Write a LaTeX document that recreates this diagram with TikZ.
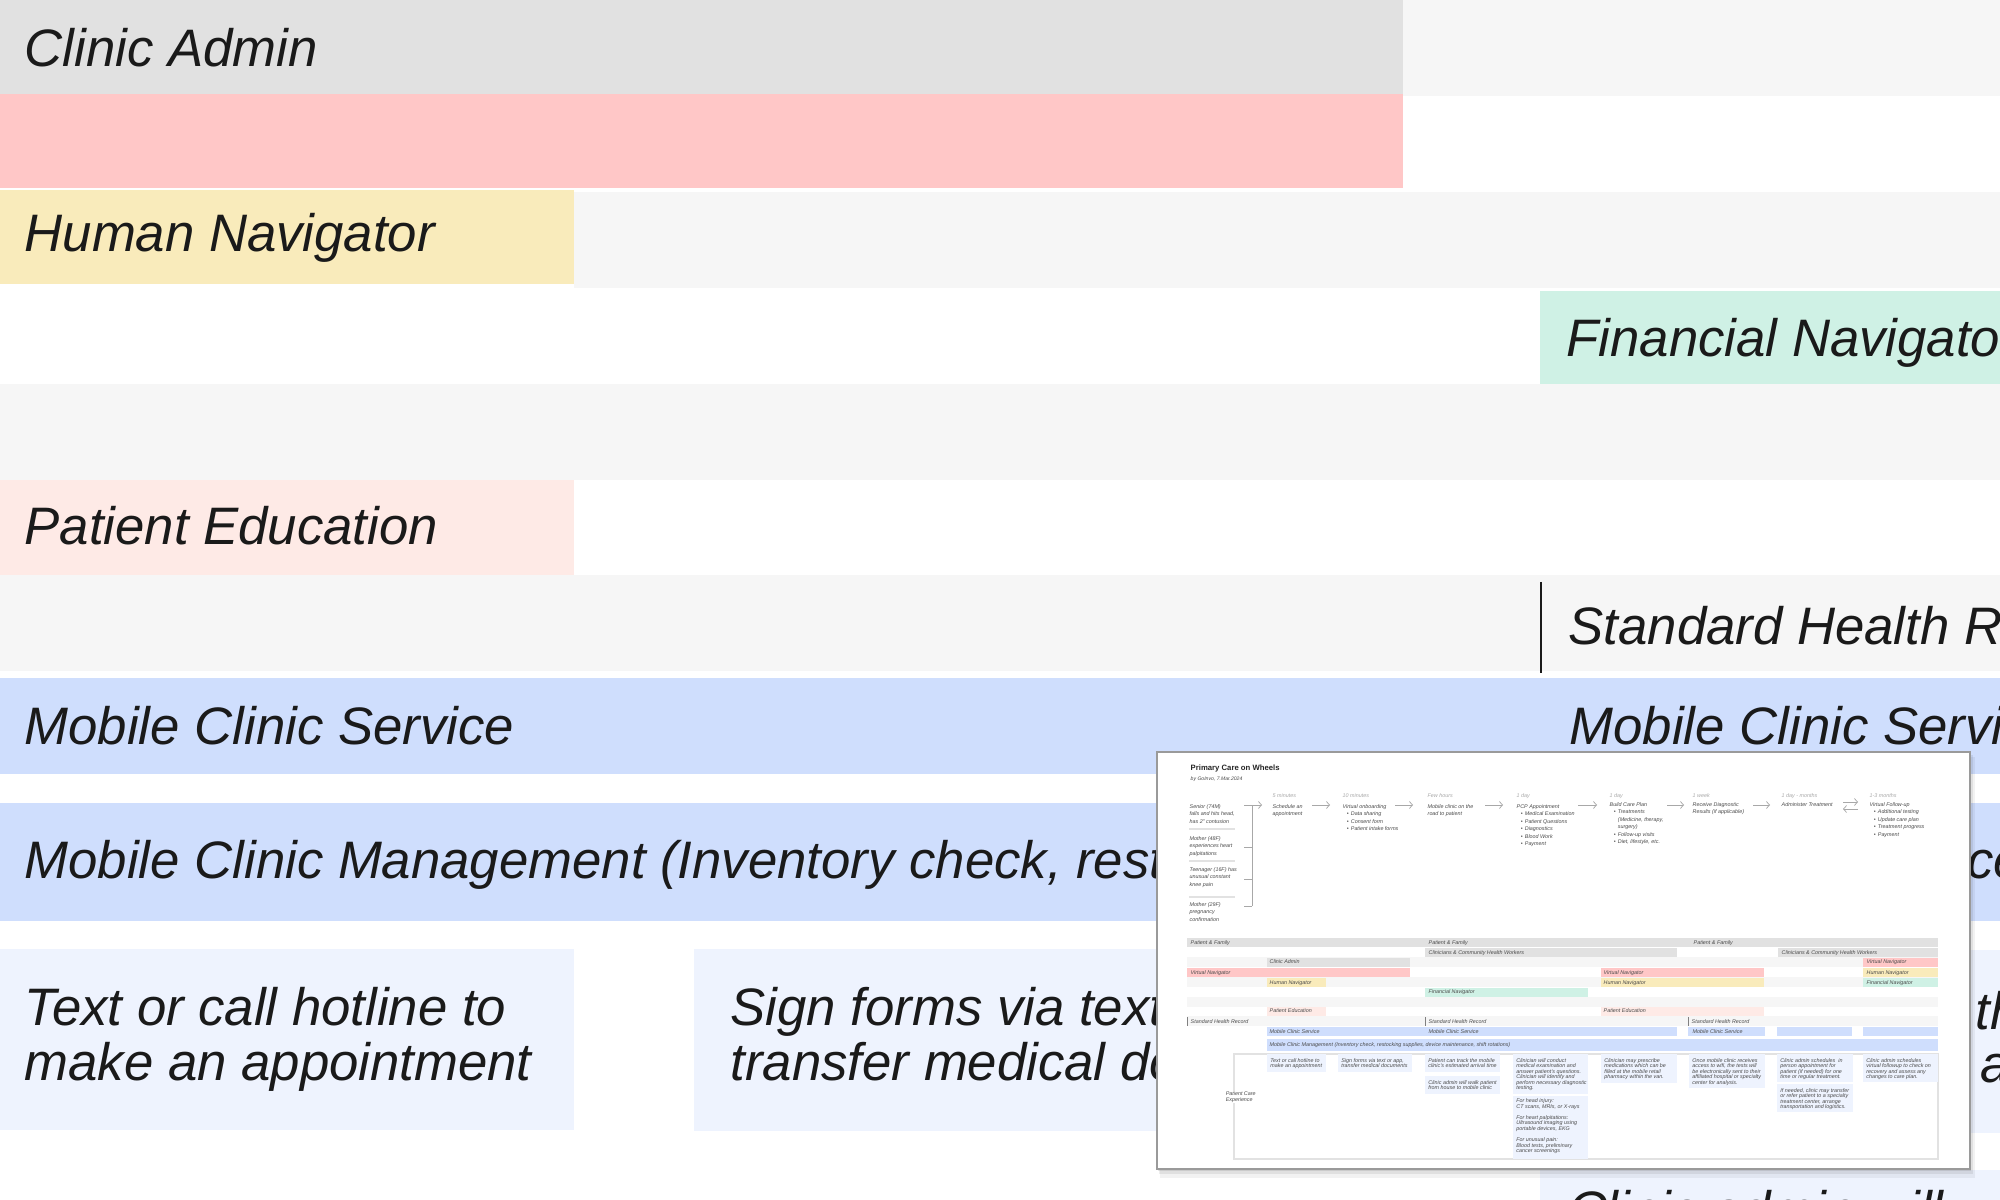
\documentclass[tikz,border=0pt]{standalone}
\usepackage{fontspec}
\setmainfont{Liberation Sans}
\usetikzlibrary{arrows.meta}

\definecolor{adminGray}{HTML}{E1E1E1}
\definecolor{rowGray}{HTML}{F6F6F6}
\definecolor{navRed}{HTML}{FFC7C7}
\definecolor{navYellow}{HTML}{F9EBBB}
\definecolor{navGreen}{HTML}{CFF1E5}
\definecolor{eduPink}{HTML}{FEEAE6}
\definecolor{clinicBlue}{HTML}{CFDEFD}
\definecolor{cardBlue}{HTML}{EEF3FE}
\definecolor{inkDark}{HTML}{1A1A1A}
\definecolor{thumbInk}{HTML}{4A4A4A}
\definecolor{thumbTime}{HTML}{A8A8A8}
\definecolor{thumbRule}{HTML}{E2E2E2}
\definecolor{frameGray}{HTML}{9A9A9A}

\newcommand{\lanefont}{\fontsize{15}{15.6}\selectfont\itshape}
\newcommand{\thumbfont}{\fontsize{1.53}{1.57}\selectfont\itshape}
\newcommand{\stepfont}{\fontsize{1.53}{2.1}\selectfont\itshape}
\newcommand{\titlefont}{\fontsize{2.2}{2.6}\selectfont\bfseries}
\newcommand{\bylinefont}{\fontsize{1.45}{1.7}\selectfont\itshape}
\newcommand{\tbul}{\hspace*{1.2pt}\textbullet\hspace*{0.6pt}}
\newcommand{\tind}{\hspace*{2.35pt}}

\tikzset{
  lane label/.style={anchor=base west, inner sep=0pt, font=\lanefont, text=inkDark},
  tlabel/.style={anchor=base west, inner sep=0pt, font=\thumbfont, text=thumbInk},
  tblock/.style={anchor=north west, inner sep=0pt, align=left, font=\thumbfont, text=thumbInk},
  tstep/.style={anchor=north west, inner sep=0pt, align=left, font=\stepfont, text=thumbInk},
  ttime/.style={anchor=base west, inner sep=0pt, font=\thumbfont, text=thumbTime},
  flow arrow/.style={-{Straight Barb[length=0.9pt, width=2pt]}, draw=thumbTime, line width=0.2pt},
  sep line/.style={draw=thumbRule, line width=0.3pt}
}

\begin{document}
\begin{tikzpicture}[x=0.1mm, y=-0.1mm]
  \useasboundingbox (0,0) rectangle (2000,1200);
  \clip (0,0) rectangle (2000,1200);
  \fill[white] (0,0) rectangle (2000,1200);

  % zoomed lanes
  \fill[rowGray] (0,0) rectangle (2000,96);
  \fill[adminGray] (0,0) rectangle (1403,94);
  \fill[navRed] (0,94) rectangle (1403,188);
  \fill[rowGray] (574,192) rectangle (2000,288);
  \fill[navYellow] (0,190) rectangle (574,284);
  \fill[navGreen] (1540,291) rectangle (2000,386);
  \fill[rowGray] (0,384) rectangle (2000,480);
  \fill[eduPink] (0,480) rectangle (574,575);
  \fill[rowGray] (0,575) rectangle (2000,671);
  \draw[inkDark, line width=0.6pt] (1541,582) -- (1541,673);
  \fill[clinicBlue] (0,678) rectangle (2000,774);
  \fill[clinicBlue] (0,803) rectangle (2000,921);

  % zoomed cards
  \fill[cardBlue] (0,949) rectangle (574,1130);
  \fill[cardBlue] (694,949) rectangle (1422,1131);
  \fill[cardBlue] (1540,950) rectangle (2000,1133);
  \fill[cardBlue] (1540,1170) rectangle (2000,1200);

  \node (caLbl) [lane label] at (24,67) {Clinic Admin};
  \node (hnLbl) [lane label] at (24,252) {Human Navigator};
  \node (fnLbl) [lane label] at (1566,357) {Financial Navigator};
  \node (peLbl) [lane label] at (24,545) {Patient Education};
  \node (shrLbl) [lane label] at (1568,645) {Standard Health Record};
  \node (mcsLbl) [lane label] at (24,744) {Mobile Clinic Service};
  \node (mcsLblB) [lane label] at (1569,744) {Mobile Clinic Service};
  \node (mgmtLbl) [lane label] at (24,879) {Mobile Clinic Management (Inventory check, restocking supplies, device maintenance, shift rotations)};
  \node (hotA) [lane label] at (24,1025) {Text or call hotline to};
  \node (hotB) [lane label] at (24,1080) {make an appointment};
  \node (signA) [lane label] at (730,1025) {Sign forms via text or app,};
  \node (signB) [lane label] at (730,1080) {transfer medical documents};
  \node (trackA) [lane label] at (1568,1030) {Patient can track the mobile};
  \node (trackB) [lane label] at (1568,1082) {clinic's estimated arrival time};
  \node (walkA) [lane label] at (1568,1228) {Clinic admin will walk patient};

  % thumbnail of the whole blueprint
  \fill[black, opacity=0.05] (1160,757) rectangle (1975,1178);
  \fill[black, opacity=0.07] (1159,755) rectangle (1973,1174);
  \fill[black, opacity=0.09] (1158,753) rectangle (1971,1171);
  \filldraw[fill=white, draw=frameGray, line width=0.35pt] (1157,752) rectangle (1970,1169);

  \node (title) [anchor=base west, inner sep=0pt, font=\titlefont, text=black!85] at (1190,771) {Primary Care on Wheels};
  \node (byline) [anchor=base west, inner sep=0pt, font=\bylinefont, text=thumbInk] at (1190,781) {by GoInvo, 7.Mar.2024};

  \foreach \x/\t in {1272/5 minutes, 1342/10 minutes, 1427/Few hours, 1516/1 day,
                     1609/1 day, 1692/1 week, 1781/1 day - months, 1869/1-3 months}
    \node (time\x) [ttime] at (\x,797) {\t};

  % personas
  \node (senior) [tstep] at (1189,804) {Senior (74M)\\falls and hits head,\\has 2" contusion};
  \node (motherA) [tstep] at (1189,836) {Mother (48F)\\experiences heart\\palpitations};
  \node (teen) [tstep] at (1189,867) {Teenager (16F) has\\unusual constant\\knee pain};
  \node (motherB) [tstep] at (1189,902) {Mother (29F)\\pregnancy\\confirmation};
  \foreach \y in {829,861,897}
    \draw[sep line] (1189,\y) -- (1235,\y);
  \draw[draw=thumbTime, line width=0.2pt] (1252,806) -- (1252,906);
  \foreach \y in {847,879,906}
    \draw[draw=thumbTime, line width=0.2pt] (1244,\y) -- (1252,\y);

  % steps
  \node (sched) [tstep] at (1272,804) {Schedule an\\appointment};
  \node (onboard) [tstep] at (1342,804) {Virtual onboarding\\\tbul Data sharing\\\tbul Consent form\\\tbul Patient intake forms};
  \node (road) [tstep] at (1427,804) {Mobile clinic on the\\road to patient};
  \node (pcp) [tstep] at (1516,804) {PCP Appointment\\\tbul Medical Examination\\\tbul Patient Questions\\\tbul Diagnostics\\\tbul Blood Work\\\tbul Payment};
  \node (plan) [tstep] at (1609,802) {Build Care Plan\\\tbul Treatments\\\tind (Medicine, therapy,\\\tind surgery)\\\tbul Follow-up visits\\\tbul Diet, lifestyle, etc.};
  \node (results) [tstep] at (1692,802) {Receive Diagnostic\\Results (if applicable)};
  \node (treat) [tstep] at (1781,802) {Administer Treatment};
  \node (follow) [tstep] at (1869,802) {Virtual Follow-up\\\tbul Additional testing\\\tbul Update care plan\\\tbul Treatment progress\\\tbul Payment};

  \foreach \a/\b in {1244/1262, 1312/1330, 1395/1413, 1485/1503, 1578/1597, 1667/1684, 1753/1770}
    \draw[flow arrow] (\a,805) -- (\b,805);
  \draw[flow arrow] (1843,802) -- (1858,802);
  \draw[flow arrow] (1858,809) -- (1843,809);

  % thumbnail lanes
  \foreach \y in {957,977,997,1016}
    \fill[rowGray] (1187,\y) rectangle (1938,\y+9.6);
  \fill[adminGray] (1187,937.5) rectangle (1938,946.5);
  \fill[adminGray] (1425,947.5) rectangle (1677,956.5);
  \fill[adminGray] (1778,947.5) rectangle (1938,956.5);
  \fill[adminGray] (1267,957.5) rectangle (1410,966.5);
  \fill[navRed] (1863,957.5) rectangle (1938,966.5);
  \fill[navRed] (1187,967.5) rectangle (1410,976.5);
  \fill[navRed] (1601,967.5) rectangle (1764,976.5);
  \fill[navYellow] (1863,967.5) rectangle (1938,976.5);
  \fill[navYellow] (1267,977.5) rectangle (1326,986.5);
  \fill[navYellow] (1601,977.5) rectangle (1764,986.5);
  \fill[navGreen] (1863,977.5) rectangle (1938,986.5);
  \fill[navGreen] (1425,987.5) rectangle (1588,996.5);
  \fill[eduPink] (1267,1006.5) rectangle (1326,1015.5);
  \fill[eduPink] (1601,1006.5) rectangle (1764,1015.5);
  \foreach \x in {1187,1425,1688}
    \draw[thumbInk!70, line width=0.25pt] (\x,1017) -- (\x,1025.5);
  \fill[clinicBlue] (1267,1026.5) rectangle (1677,1035.5);
  \fill[clinicBlue] (1688,1026.5) rectangle (1765,1035.5);
  \fill[clinicBlue] (1777,1026.5) rectangle (1852,1035.5);
  \fill[clinicBlue] (1863,1026.5) rectangle (1938,1035.5);
  \fill[clinicBlue] (1267,1039) rectangle (1938,1051);

  \foreach \x in {1190,1428,1693}
    \node (pf\x) [tlabel] at (\x,944) {Patient \& Family};
  \foreach \x in {1428,1781}
    \node (cw\x) [tlabel] at (\x,954) {Clinicians \& Community Health Workers};
  \node (tCa) [tlabel] at (1269,964) {Clinic Admin};
  \node (tVnC) [tlabel] at (1866,964) {Virtual Navigator};
  \node (tVnA) [tlabel] at (1190,974) {Virtual Navigator};
  \node (tVnB) [tlabel] at (1603,974) {Virtual Navigator};
  \node (tHnC) [tlabel] at (1866,974) {Human Navigator};
  \node (tHnA) [tlabel] at (1269,984) {Human Navigator};
  \node (tHnB) [tlabel] at (1603,984) {Human Navigator};
  \node (tFnC) [tlabel] at (1866,984) {Financial Navigator};
  \node (tFnA) [tlabel] at (1428,994) {Financial Navigator};
  \node (tPeA) [tlabel] at (1269,1013) {Patient Education};
  \node (tPeB) [tlabel] at (1603,1013) {Patient Education};
  \foreach \x in {1190,1428,1691}
    \node (shr\x) [tlabel] at (\x,1023) {Standard Health Record};
  \foreach \x in {1269,1428,1692}
    \node (mcs\x) [tlabel] at (\x,1033) {Mobile Clinic Service};
  \node (tMgmt) [tlabel] at (1269,1047) {Mobile Clinic Management (Inventory check, restocking supplies, device maintenance, shift rotations)};

  % patient care experience
  \draw[sep line] (1234,1054) rectangle (1938,1159);
  \node (pce) [tblock, fill=white, inner sep=0.3pt] at (1224,1090) {Patient Care\\Experience};

  \fill[cardBlue] (1267,1054) rectangle (1326,1072);
  \fill[cardBlue] (1338,1054) rectangle (1412,1072);
  \fill[cardBlue] (1425,1054) rectangle (1500,1072);
  \fill[cardBlue] (1425,1076) rectangle (1500,1094);
  \fill[cardBlue] (1513,1054) rectangle (1588,1094);
  \fill[cardBlue] (1513,1096) rectangle (1588,1159);
  \fill[cardBlue] (1601,1054) rectangle (1677,1083);
  \fill[cardBlue] (1689,1054) rectangle (1765,1088);
  \fill[cardBlue] (1777,1054) rectangle (1853,1082);
  \fill[cardBlue] (1777,1084) rectangle (1853,1112);
  \fill[cardBlue] (1863,1054) rectangle (1938,1082);

  \node (cHot) [tblock] at (1269.7,1057.8) {Text or call hotline to\\make an appointment};
  \node (cSign) [tblock] at (1340.7,1057.8) {Sign forms via text or app,\\transfer medical documents};
  \node (cTrack) [tblock] at (1427.7,1057.8) {Patient can track the mobile\\clinic's estimated arrival time};
  \node (cWalk) [tblock] at (1427.7,1079.8) {Clinic admin will walk patient\\from house to mobile clinic};
  \node (cExam) [tblock] at (1515.7,1057.8) {Clinician will conduct\\medical examination and\\answer patient's questions.\\Clinician will identify and\\perform necessary diagnostic\\testing.};
  \node (cTests) [tblock] at (1515.7,1098.2) {For head injury:\\CT scans, MRIs, or X-rays\\[1.6pt]For heart palpitations:\\Ultrasound imaging using\\portable devices, EKG\\[1.6pt]For unusual pain:\\Blood tests, preliminary\\cancer screenings};
  \node (cRx) [tblock] at (1603.7,1057.8) {Clinician may prescribe\\medications which can be\\filled at the mobile retail\\pharmacy within the van.};
  \node (cWifi) [tblock] at (1691.7,1057.8) {Once mobile clinic receives\\access to wifi, the tests will\\be electronically sent to their\\affiliated hospital or specialty\\center for analysis.};
  \node (cSched) [tblock] at (1779.7,1057.8) {Clinic admin schedules\ \ in\\person appointment for\\patient (if needed) for one\\time or regular treatment.};
  \node (cRefer) [tblock] at (1779.7,1087.8) {If needed, clinic may transfer\\or refer patient to a specialty\\treatment center, arrange\\transportation and logistics.};
  \node (cVirt) [tblock] at (1865.7,1057.8) {Clinic admin schedules\\virtual followup to check on\\recovery and assess any\\changes to care plan.};
\end{tikzpicture}
\end{document}
